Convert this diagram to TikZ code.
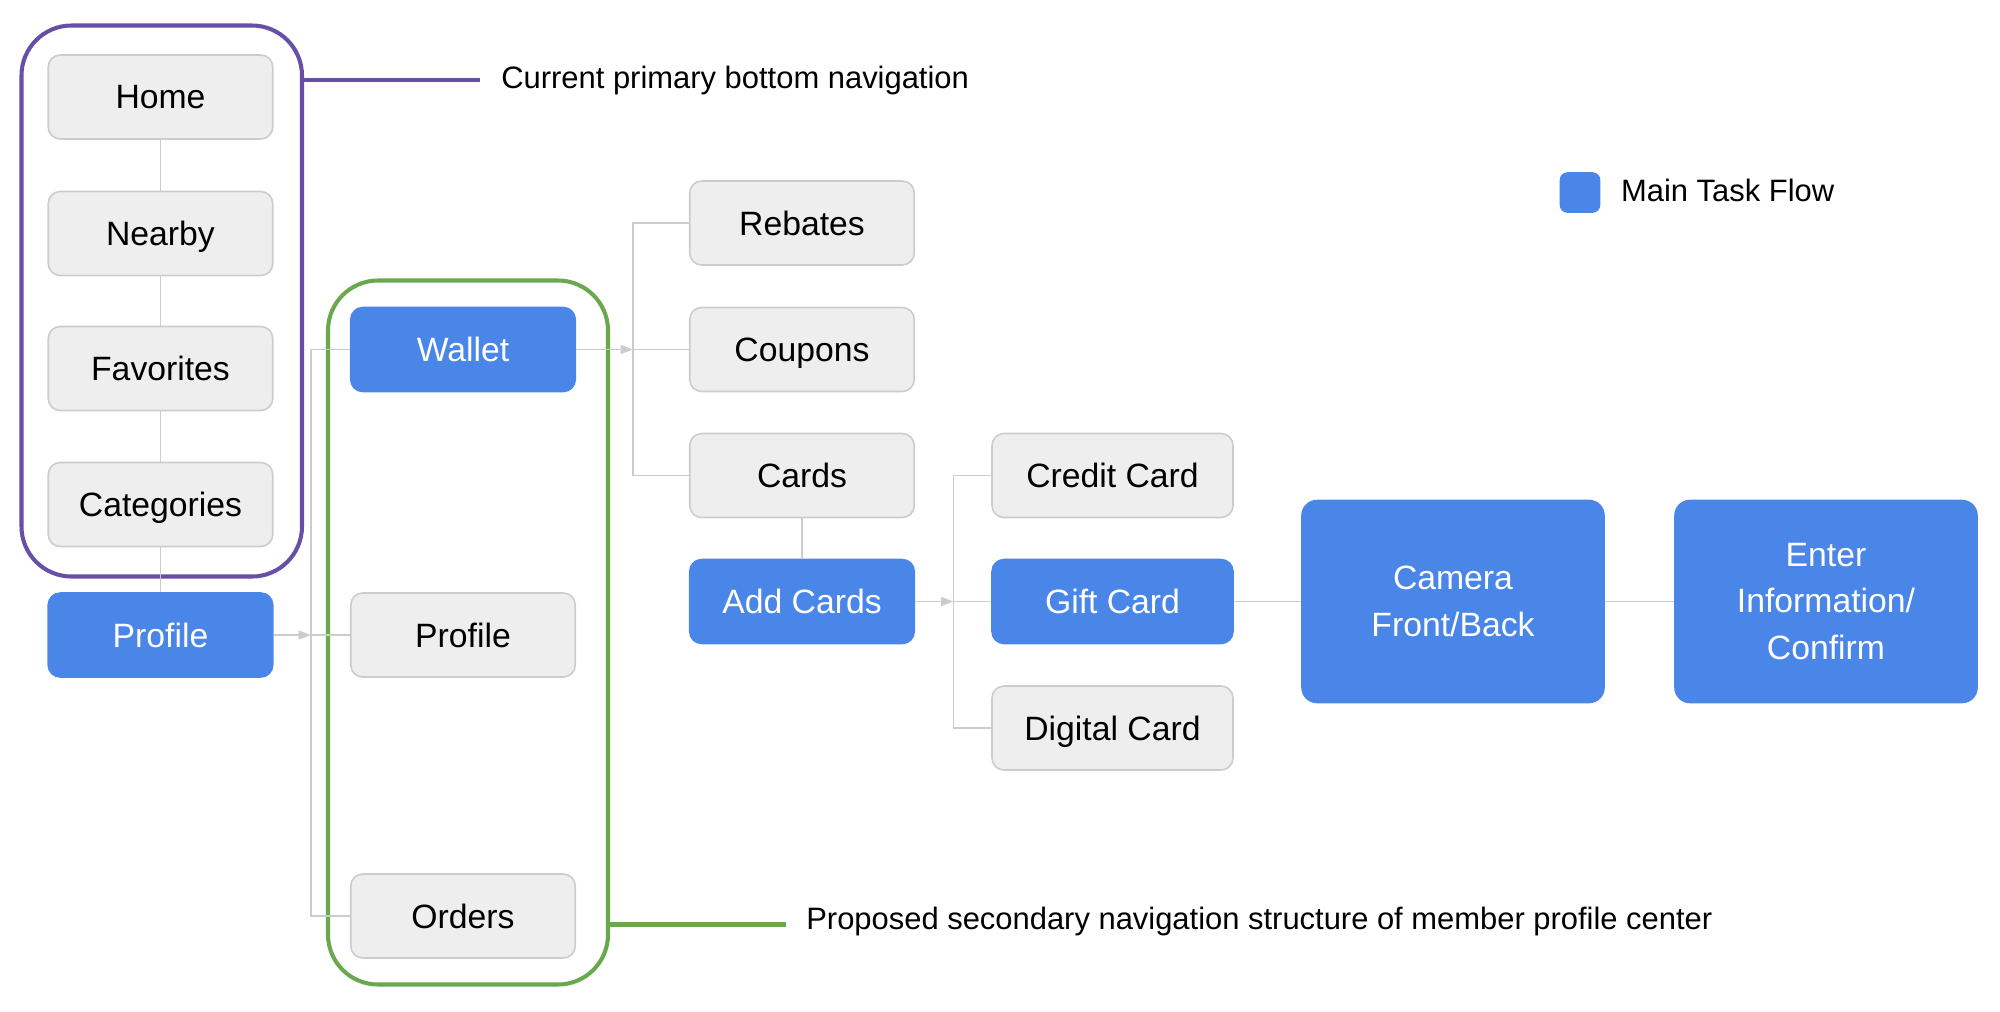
\documentclass[tikz,border=0pt]{standalone}
\usepackage{fontspec}
\setmainfont{Liberation Sans}
\usetikzlibrary{arrows.meta, positioning, calc}
\definecolor{navgray}{HTML}{EEEEEE}
\definecolor{navedge}{HTML}{CCCCCC}
\definecolor{taskblue}{HTML}{4A86E8}
\definecolor{primpurple}{HTML}{674EA7}
\definecolor{secgreen}{HTML}{6AA84F}

\begin{document}
\begin{tikzpicture}[
  page/.style={draw=navedge, line width=0.9pt, rounded corners=0.24cm, fill=navgray,
               minimum width=4.49cm, minimum height=1.68cm, align=center, text depth=0pt,
               font=\fontsize{19.2}{26.5}\selectfont},
  task/.style={page, draw=taskblue, fill=taskblue, text=white},
  wide/.style={minimum width=4.82cm},
  big/.style={task, text depth=, minimum width=6.04cm, minimum height=4.04cm, rounded corners=0.3cm},
  link/.style={draw=navedge, line width=1.1pt},
  arr/.style={link, -{Triangle[length=0.25cm, width=0.18cm]}},
  group/.style={line width=2.3pt, rounded corners=1.0cm, minimum width=5.6cm},
  note/.style={font=\fontsize{17.6}{21}\selectfont, anchor=west, inner sep=0pt},
  node distance=0.84cm
]
\useasboundingbox (0,0) rectangle (40,-20.22);

% Current bottom navigation
\node[page] (home) at (3.21,-1.94) {Home};
\node[page] (nearby) at (3.21,-4.67) {Nearby};
\node[page] (favorites) at (3.21,-7.37) {Favorites};
\node[page] (categories) at (3.21,-10.09) {Categories};
\node[task] (profile) at (3.21,-12.7) {Profile};

% Member profile center
\node[task] (wallet) at (9.26,-6.99) {Wallet};
\node[page] (profilesub) at (9.26,-12.7) {Profile};
\node[page] (orders) at (9.26,-18.32) {Orders};

% Wallet items
\node[page] (rebates) at (16.04,-4.46) {Rebates};
\node[page] (coupons) at (16.04,-6.99) {Coupons};
\node[page] (cards) at (16.04,-9.51) {Cards};
\node[task] (addcards) at (16.04,-12.03) {Add Cards};

% Card types
\node[page, wide] (credit) at (22.25,-9.51) {Credit Card};
\node[task, wide] (gift) at (22.25,-12.03) {Gift Card};
\node[page, wide] (digital) at (22.25,-14.56) {Digital Card};

% Gift card flow
\node[big] (camera) at (29.06,-12.03) {Camera\\Front/Back};
\node[big] (confirm) at (36.52,-12.03) {Enter\\Information/\\Confirm};

% Groups and notes
\node[group, draw=primpurple, minimum width=5.61cm, minimum height=11.02cm] (primary) at (3.235,-6.02) {};
\node[group, draw=secgreen, minimum height=14.08cm] (secondary) at (9.36,-12.65) {};
\node[note] (primnote) at (10.02,-1.61) {Current primary bottom navigation};
\node[note] (secnote) at (16.12,-18.43) {Proposed secondary navigation structure of member profile center};
\coordinate (primend) at (9.59,-1.6);
\coordinate (secend) at (15.71,-18.49);
\draw[primpurple, line width=2.3pt] (primary.east |- primend) -- (primend);
\draw[secgreen, line width=2.3pt] (secondary.east |- secend) -- (secend);

% Legend
\node[task, minimum width=0.78cm, minimum height=0.78cm, rounded corners=0.14cm] (legend) at (31.6,-3.85) {};
\node[note, right=0.41cm of legend, yshift=0.05cm] (legendtext) {Main Task Flow};

% Connectors
\coordinate (j1) at (6.22,-12.7);
\coordinate (j2) at (12.66,-6.99);
\coordinate (j3) at (19.07,-12.03);
\draw[link] (home) -- (nearby);
\draw[link] (nearby) -- (favorites);
\draw[link] (favorites) -- (categories);
\draw[link] (categories) -- (profile);
\draw[arr] (profile.east) -- (j1);
\draw[link] (wallet.west) -| (j1) |- (orders.west);
\draw[link] (j1) -- (profilesub.west);
\draw[arr] (wallet.east) -- (j2);
\draw[link] (rebates.west) -| (j2) |- (cards.west);
\draw[link] (j2) -- (coupons.west);
\draw[link] (cards) -- (addcards);
\draw[arr] (addcards.east) -- (j3);
\draw[link] (credit.west) -| (j3) |- (digital.west);
\draw[link] (j3) -- (gift.west);
\draw[link] (gift) -- (camera);
\draw[link] (camera) -- (confirm);
\end{tikzpicture}
\end{document}
